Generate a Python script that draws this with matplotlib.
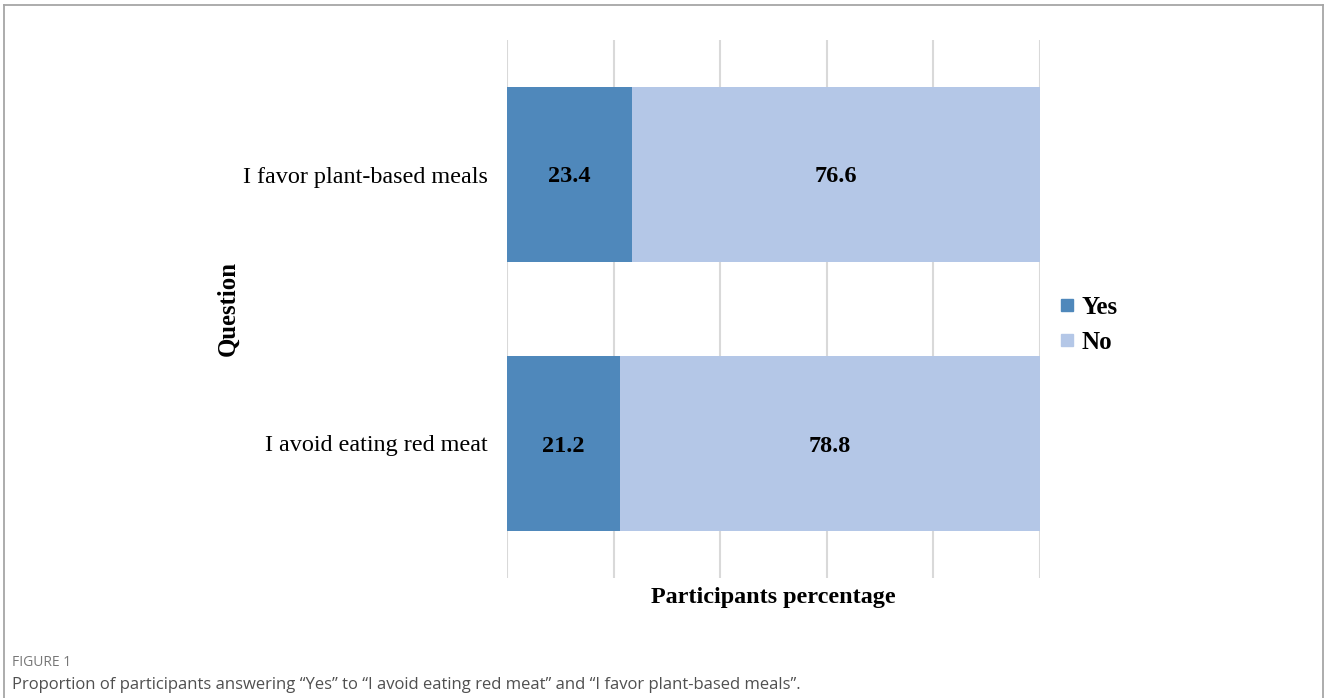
import matplotlib
matplotlib.use("Agg")
import matplotlib.pyplot as plt
from matplotlib.lines import Line2D

# --- data ---
questions = ["I avoid eating red meat", "I favor plant-based meals"]
yes_pct = [21.2, 23.4]
no_pct = [78.8, 76.6]
series_names = ["Yes", "No"]
colors = ["#4F88BB", "#B4C7E7"]

fig = plt.figure(figsize=(13.28, 6.98), dpi=100)
W, H = 1328, 698

# axes placed in pixel coords of the reference
left, right, top, bottom = 507, 1040, 40, 578
ax = fig.add_axes([left / W, 1 - bottom / H, (right - left) / W, (bottom - top) / H])

y = list(range(len(questions)))
ax.barh(y, yes_pct, height=0.647, color=colors[0], zorder=3)
ax.barh(y, no_pct, left=yes_pct, height=0.647, color=colors[1], zorder=3)

serif = "Liberation Serif"
for i in y:
    ax.text(yes_pct[i] / 2, i, f"{yes_pct[i]:.1f}", ha="center", va="center_baseline",
            fontsize=17.5, fontweight="bold", family=serif, zorder=4)
    ax.text(yes_pct[i] + no_pct[i] / 2, i, f"{no_pct[i]:.1f}", ha="center",
            va="center_baseline", fontsize=17.5, fontweight="bold", family=serif, zorder=4)

ax.set_xlim(0, 100)
ax.set_ylim(-0.5, 1.5)
ax.set_xticks([0, 20, 40, 60, 80, 100])
ax.set_xticklabels([])
ax.tick_params(axis="x", length=0)
ax.set_yticks(y)
ax.set_yticklabels(questions, family=serif, fontsize=17.4)
ax.tick_params(axis="y", length=0, pad=14)
ax.grid(axis="x", color="#d9d9d9", linewidth=1.5, zorder=0)
for s in ax.spines.values():
    s.set_visible(False)

ax.set_xlabel("Participants percentage", family=serif, fontsize=17.4,
              fontweight="bold", labelpad=3)
fig.text(228 / W, 1 - 308 / H, "Question", rotation=90, ha="center", va="center",
         family=serif, fontsize=17.8, fontweight="bold")

handles = [Line2D([], [], marker="s", linestyle="", markersize=8, color=c) for c in colors]
fig.legend(handles, series_names, loc="center left",
           bbox_to_anchor=(1046 / W, 1 - 325 / H), frameon=False, borderpad=0,
           prop={"family": serif, "size": 18, "weight": "bold"},
           handlelength=0.7, handletextpad=0.22, labelspacing=0.48)

# outer frame of the figure panel
frame_col = "#a6a6a6"
fig.add_artist(Line2D([4 / W, 1323 / W], [1 - 5 / H, 1 - 5 / H], color=frame_col, lw=1.3))
fig.add_artist(Line2D([4 / W, 4 / W], [0, 1 - 5 / H], color=frame_col, lw=1.3))
fig.add_artist(Line2D([1323 / W, 1323 / W], [0, 1 - 5 / H], color=frame_col, lw=1.3))

# caption
fig.text(12 / W, 1 - 662 / H, "FIGURE 1", family="Open Sans", fontsize=10,
         color="#777777", va="center")
fig.text(12 / W, 1 - 685 / H,
         "Proportion of participants answering \u201cYes\u201d to \u201cI avoid eating red meat\u201d and \u201cI favor plant-based meals\u201d.",
         family="Open Sans", fontsize=12, color="#505050", va="center")

fig.savefig("out.png", dpi=100)
